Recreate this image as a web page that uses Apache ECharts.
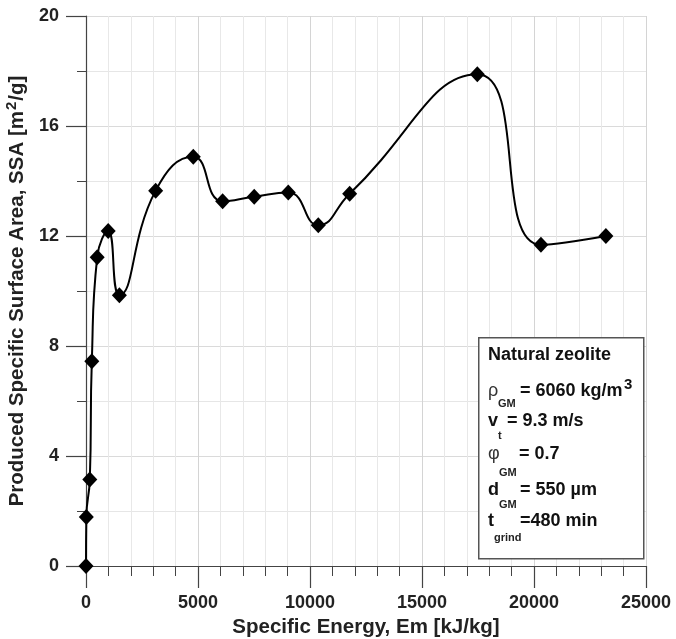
<!DOCTYPE html>
<html>
<head>
<meta charset="utf-8">
<script src="https://cdn.jsdelivr.net/npm/echarts@6/dist/echarts.min.js"></script>
<style>
html,body{margin:0;padding:0;background:#fff;}
#chart{width:676px;height:639px;}
</style>
</head>
<body>
<div id="chart"></div>
<script>
// Data
const energy = [0, 15, 170, 260, 500, 990, 1490, 3110, 4790, 6100, 7510, 9030, 10370, 11770, 17470, 20310, 23210];
const ssa = [0, 1.78, 3.15, 7.45, 11.23, 12.18, 9.85, 13.65, 14.88, 13.26, 13.43, 13.58, 12.39, 13.54, 17.88, 11.68, 12.0];
const xTicks = [0, 5000, 10000, 15000, 20000, 25000];
const yTicks = [0, 4, 8, 12, 16, 20];

const FONT = 'Liberation Sans, Arial, sans-serif';
const chart = echarts.init(document.getElementById('chart'), null, {renderer: 'canvas'});
const points = energy.map((e, i) => [e, ssa[i]]);

function txt(text, x, y, font, fill) {
  return {type: 'text', x: x, y: y, z: 11, style: {text: text, font: font + ' ' + FONT, fill: fill || '#111', verticalAlign: 'middle'}};
}

chart.setOption({
  animation: false,
  backgroundColor: '#fff',
  grid: {left: 86, right: 30, top: 16, bottom: 73, containLabel: false, outerBoundsMode: 'none'},
  xAxis: {
    type: 'value', min: xTicks[0], max: xTicks[xTicks.length - 1], interval: 5000,
    name: 'Specific Energy, Em [kJ/kg]', nameLocation: 'middle', nameGap: 50,
    nameTextStyle: {fontFamily: FONT, fontWeight: 'bold', fontSize: 20.5, color: '#222'},
    axisLine: {show: true, lineStyle: {color: '#444', width: 1.2}},
    axisTick: {show: true, length: 22, lineStyle: {color: '#444', width: 1.2}},
    minorTick: {show: true, splitNumber: 5, length: 10, lineStyle: {color: '#444', width: 1}},
    axisLabel: {fontFamily: FONT, fontWeight: 'bold', fontSize: 18, color: '#222', margin: 28, showMinLabel: true, showMaxLabel: true, hideOverlap: false, formatter: v => String(v)},
    splitLine: {show: true, lineStyle: {color: '#d4d4d4', width: 1}},
    minorSplitLine: {show: true, lineStyle: {color: '#e8e8e8', width: 1}}
  },
  yAxis: {
    type: 'value', min: yTicks[0], max: yTicks[yTicks.length - 1], interval: 4,
    name: '{a|Produced Specific Surface Area, SSA [m}{s|2}{a|/g]}', nameLocation: 'middle', nameGap: 53,
    nameTextStyle: {
      fontFamily: FONT, fontWeight: 'bold', fontSize: 20.5, color: '#222',
      rich: {
        a: {fontFamily: FONT, fontWeight: 'bold', fontSize: 20.5, color: '#222', lineHeight: 24, verticalAlign: 'bottom'},
        s: {fontFamily: FONT, fontWeight: 'bold', fontSize: 15, color: '#222', lineHeight: 24, verticalAlign: 'top', padding: [0, 1, 0, 1]}
      }
    },
    axisLine: {show: true, lineStyle: {color: '#444', width: 1.2}},
    axisTick: {show: true, length: 20, lineStyle: {color: '#444', width: 1.2}},
    minorTick: {show: true, splitNumber: 2, length: 9, lineStyle: {color: '#444', width: 1}},
    axisLabel: {fontFamily: FONT, fontWeight: 'bold', fontSize: 18, color: '#222', margin: 27, showMinLabel: true, showMaxLabel: true, formatter: v => String(v)},
    splitLine: {show: true, lineStyle: {color: '#dadada', width: 1}},
    minorSplitLine: {show: true, lineStyle: {color: '#e6e6e6', width: 1}}
  },
  series: [{
    type: 'line', data: points, smooth: 0.5,
    symbol: 'diamond', symbolSize: [15, 16],
    lineStyle: {color: '#000', width: 2},
    itemStyle: {color: '#000'},
    z: 5
  }],
  graphic: [
    {type: 'rect', left: 478, top: 337, shape: {width: 165, height: 221}, style: {fill: '#fff', stroke: '#555', lineWidth: 1.5}, z: 10},
    txt('Natural zeolite', 488, 355, 'bold 18px'),
    txt('ρ', 488, 391, '18px', '#333'),
    txt('GM', 498, 404, 'bold 11px', '#222'),
    txt('= 6060 kg/m', 520, 391, 'bold 18px'),
    txt('3', 624, 385, 'bold 15px'),
    txt('v', 488, 421, 'bold 18px'),
    txt('t', 498, 436, 'bold 11px', '#222'),
    txt('= 9.3 m/s', 507, 421, 'bold 18px'),
    txt('φ', 488, 454, '18px', '#333'),
    txt('GM', 499, 473, 'bold 11px', '#222'),
    txt('= 0.7', 519, 454, 'bold 18px'),
    txt('d', 488, 490, 'bold 18px'),
    txt('GM', 499, 505, 'bold 11px', '#222'),
    txt('= 550 µm', 520, 490, 'bold 18px'),
    txt('t', 488, 521, 'bold 18px'),
    txt('grind', 494, 538, 'bold 11px', '#222'),
    txt('=480 min', 520, 521, 'bold 18px')
  ]
});
</script>
</body>
</html>
